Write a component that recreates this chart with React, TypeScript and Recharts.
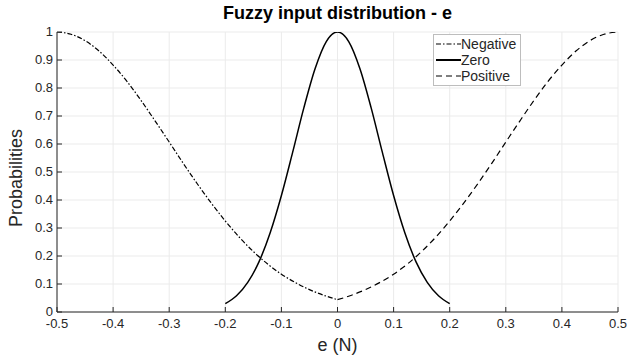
import React from "react";
import {
  LineChart,
  Line,
  XAxis,
  YAxis,
  CartesianGrid,
  Legend,
} from "recharts";

// values
const negX = [
  -0.5, -0.475, -0.45, -0.425, -0.4, -0.375, -0.35, -0.325, -0.3, -0.275, -0.25,
  -0.225, -0.2, -0.175, -0.15, -0.125, -0.1, -0.075, -0.05, -0.025, 0,
];
const negY = [
  1, 0.992, 0.969, 0.932, 0.882, 0.823, 0.755, 0.682, 0.607, 0.531, 0.458,
  0.389, 0.325, 0.267, 0.216, 0.172, 0.135, 0.105, 0.08, 0.06, 0.044,
];
const zeroX = [
  -0.2, -0.18, -0.16, -0.14, -0.12, -0.1, -0.08, -0.06, -0.04, -0.02, 0,
  0.02, 0.04, 0.06, 0.08, 0.1, 0.12, 0.14, 0.16, 0.18, 0.2,
];
const zeroY = [
  0.03, 0.058, 0.106, 0.179, 0.283, 0.416, 0.57, 0.729, 0.869, 0.966, 1,
  0.966, 0.869, 0.729, 0.57, 0.416, 0.283, 0.179, 0.106, 0.058, 0.03,
];
const posX = [
  0, 0.025, 0.05, 0.075, 0.1, 0.125, 0.15, 0.175, 0.2, 0.225, 0.25,
  0.275, 0.3, 0.325, 0.35, 0.375, 0.4, 0.425, 0.45, 0.475, 0.5,
];
const posY = [
  0.044, 0.06, 0.08, 0.105, 0.135, 0.172, 0.216, 0.267, 0.325, 0.389, 0.458,
  0.531, 0.607, 0.682, 0.755, 0.823, 0.882, 0.932, 0.969, 0.992, 1,
];

const xTicks = [-0.5, -0.4, -0.3, -0.2, -0.1, 0, 0.1, 0.2, 0.3, 0.4, 0.5];
const yTicks = [0, 0.1, 0.2, 0.3, 0.4, 0.5, 0.6, 0.7, 0.8, 0.9, 1];

const seriesNames = ["Negative", "Zero", "Positive"];

const toPoints = (xs: number[], ys: number[]) =>
  xs.map((x, i) => ({ x, y: ys[i] }));

const negData = toPoints(negX, negY);
const zeroData = toPoints(zeroX, zeroY);
const posData = toPoints(posX, posY);

const AXIS = "#262626";
const FONT = "'Liberation Sans', Arial, sans-serif";
const NEG_DASH = "5 2 1.5 2";
const POS_DASH = "6 4";

const BottomTick = (props: any) => {
  const { x, y, payload } = props;
  return (
    <g>
      <line x1={x} x2={x} y1={y} y2={y - 5} stroke={AXIS} strokeWidth={1} />
      <text x={x} y={y + 16} textAnchor="middle" fontSize={13} fill={AXIS} fontFamily={FONT}>
        {payload.value}
      </text>
    </g>
  );
};

const TopTick = (props: any) => {
  const { x, y } = props;
  return <line x1={x} x2={x} y1={y} y2={y + 5} stroke={AXIS} strokeWidth={1} />;
};

const LeftTick = (props: any) => {
  const { x, y, payload } = props;
  return (
    <g>
      <line x1={x} x2={x + 5} y1={y} y2={y} stroke={AXIS} strokeWidth={1} />
      <text x={x - 4} y={y + 4} textAnchor="end" fontSize={13} fill={AXIS} fontFamily={FONT}>
        {payload.value}
      </text>
    </g>
  );
};

const RightTick = (props: any) => {
  const { x, y } = props;
  return <line x1={x} x2={x - 5} y1={y} y2={y} stroke={AXIS} strokeWidth={1} />;
};

const YLabel = (props: any) => {
  const { viewBox } = props;
  const cx = 22;
  const cy = viewBox.y + viewBox.height / 2 + 6;
  return (
    <text
      x={cx}
      y={cy}
      transform={`rotate(-90 ${cx} ${cy})`}
      textAnchor="middle"
      fontSize={18}
      fill={AXIS}
      fontFamily={FONT}
    >
      Probabilities
    </text>
  );
};

const renderLegend = () => {
  const dashes = [NEG_DASH, undefined, POS_DASH];
  const widths = [1.2, 2, 1.2];
  return (
    <div
      style={{
        border: "1px solid #bdbdbd",
        background: "#fff",
        padding: "1px 4px 1px 2px",
        fontFamily: FONT,
        fontSize: 14,
        color: AXIS,
        lineHeight: "16px",
      }}
    >
      {seriesNames.map((name, i) => (
        <div key={name} style={{ display: "flex", alignItems: "center" }}>
          <svg width={25} height={16}>
            <line x1={0} x2={25} y1={8} y2={8} stroke="#000" strokeWidth={widths[i]} strokeDasharray={dashes[i]} />
          </svg>
          <span>{name}</span>
        </div>
      ))}
    </div>
  );
};

export default function App() {
  return (
    <div style={{ position: "absolute", left: 0, top: 0, width: 627, height: 360, background: "#fff" }}>
      <div
        style={{
          position: "absolute",
          left: 0,
          width: 675,
          top: 3,
          textAlign: "center",
          fontFamily: FONT,
          fontWeight: "bold",
          fontSize: 18,
          color: "#000",
        }}
      >
        Fuzzy input distribution - e
      </div>
      <LineChart
        width={627}
        height={360}
        margin={{ top: 32, right: 9, bottom: 0, left: 12 }}
      >
        <CartesianGrid stroke="#ebebeb" strokeWidth={1} />
        <XAxis
          dataKey="x"
          type="number"
          domain={[-0.5, 0.5]}
          ticks={xTicks}
          interval={0}
          allowDataOverflow
          stroke={AXIS}
          tickSize={0}
          tickMargin={0}
          tickLine={false}
          tick={<BottomTick />}
          height={48}
          label={{
            value: "e (N)",
            position: "insideBottom",
            offset: 9,
            fontSize: 18,
            fill: AXIS,
            fontFamily: FONT,
          }}
        />
        <XAxis
          xAxisId="top"
          orientation="top"
          type="number"
          domain={[-0.5, 0.5]}
          ticks={xTicks}
          interval={0}
          allowDataOverflow
          stroke={AXIS}
          tickSize={0}
          tickMargin={0}
          tickLine={false}
          tick={<TopTick />}
          height={0}
        />
        <YAxis
          type="number"
          domain={[0, 1]}
          ticks={yTicks}
          interval={0}
          allowDataOverflow
          stroke={AXIS}
          tickSize={0}
          tickMargin={0}
          tickLine={false}
          tick={<LeftTick />}
          width={45}
          label={<YLabel />}
        />
        <YAxis
          yAxisId="right"
          orientation="right"
          type="number"
          domain={[0, 1]}
          ticks={yTicks}
          interval={0}
          allowDataOverflow
          stroke={AXIS}
          tickSize={0}
          tickMargin={0}
          tickLine={false}
          tick={<RightTick />}
          width={0}
        />
        <Legend
          content={renderLegend}
          layout="horizontal"
          verticalAlign="middle"
          align="center"
          wrapperStyle={{ position: "absolute", left: 433, top: 34, width: "auto" }}
        />
        <Line
          data={negData}
          dataKey="y"
          name={seriesNames[0]}
          type="monotone"
          stroke="#000"
          strokeWidth={1.2}
          strokeDasharray={NEG_DASH}
          dot={false}
          isAnimationActive={false}
        />
        <Line
          data={zeroData}
          dataKey="y"
          name={seriesNames[1]}
          type="monotone"
          stroke="#000"
          strokeWidth={1.5}
          dot={false}
          isAnimationActive={false}
        />
        <Line
          data={posData}
          dataKey="y"
          name={seriesNames[2]}
          type="monotone"
          stroke="#000"
          strokeWidth={1.2}
          strokeDasharray={POS_DASH}
          dot={false}
          isAnimationActive={false}
        />
      </LineChart>
    </div>
  );
}
